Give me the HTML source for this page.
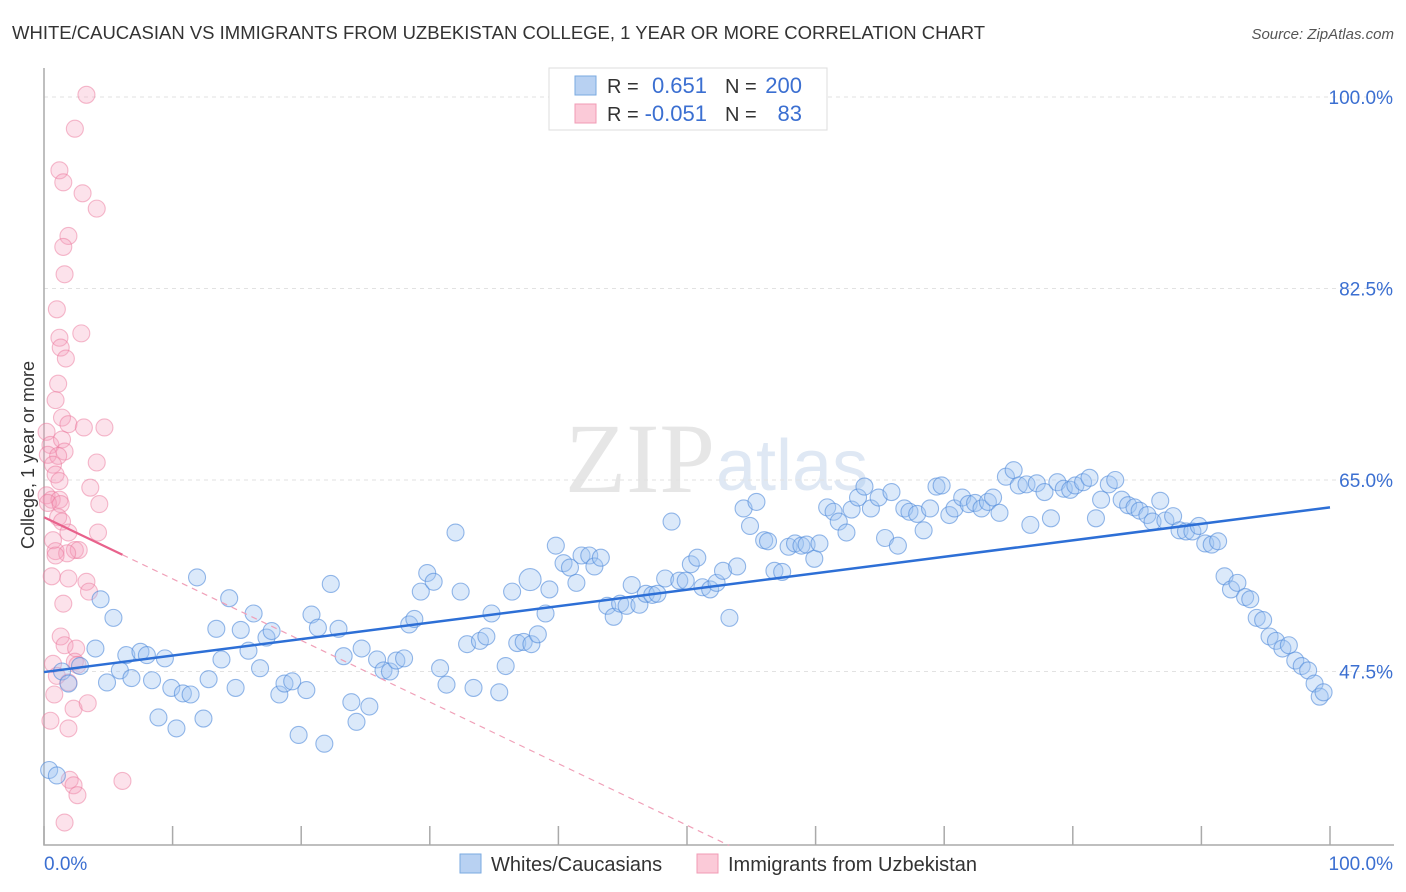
<!DOCTYPE html>
<html><head><meta charset="utf-8"><style>
body{margin:0;background:#fff;font-family:"Liberation Sans",sans-serif;}
svg{display:block}
</style></head><body>
<svg id="chart" width="1406" height="892" xmlns="http://www.w3.org/2000/svg">
<text x="12" y="39" font-size="18.5" fill="#333">WHITE/CAUCASIAN VS IMMIGRANTS FROM UZBEKISTAN COLLEGE, 1 YEAR OR MORE CORRELATION CHART</text>
<text x="1394" y="39" font-size="15" fill="#555" font-style="italic" text-anchor="end">Source: ZipAtlas.com</text>
<text x="715" y="492" font-size="100" fill="#e6e6e6" font-family="Liberation Serif,serif" text-anchor="end">ZIP</text>
<text x="716" y="490" font-size="72" fill="#dfe8f4">atlas</text>
<g id="grid"></g>
<g id="axes"></g>
<g id="pinkg"></g>
<g id="blueg"></g>
<g id="lines"></g>
<text x="34" y="455" font-size="18" fill="#333" text-anchor="middle" transform="rotate(-90 34 455)">College, 1 year or more</text>
<text x="44" y="870" font-size="19" fill="#3b6fd1">0.0%</text>
<text x="1393" y="870" font-size="19" fill="#3b6fd1" text-anchor="end">100.0%</text>
<g>
<rect x="549" y="68" width="278" height="62" fill="#fff" stroke="#ddd"/>
<rect x="575" y="76" width="21" height="19" fill="#b8d1f2" stroke="#7aaae0"/>
<rect x="575" y="104" width="21" height="19" fill="#fbcad8" stroke="#f09bb5"/>
<text x="607" y="93" font-size="20" fill="#333">R =</text>
<text x="707" y="93" font-size="22" fill="#3b6fd1" text-anchor="end">0.651</text>
<text x="725" y="93" font-size="20" fill="#333">N =</text>
<text x="802" y="93" font-size="22" fill="#3b6fd1" text-anchor="end">200</text>
<text x="607" y="121" font-size="20" fill="#333">R =</text>
<text x="707" y="121" font-size="22" fill="#3b6fd1" text-anchor="end">-0.051</text>
<text x="725" y="121" font-size="20" fill="#333">N =</text>
<text x="802" y="121" font-size="22" fill="#3b6fd1" text-anchor="end">83</text>
</g>
<g>
<rect x="460" y="854" width="21" height="19" fill="#b8d1f2" stroke="#7aaae0"/>
<text x="491" y="871" font-size="20" fill="#333">Whites/Caucasians</text>
<rect x="697" y="854" width="21" height="19" fill="#fbcad8" stroke="#f09bb5"/>
<text x="728" y="871" font-size="20" fill="#333">Immigrants from Uzbekistan</text>
</g>
</svg>
<script>
const yTicks=[47.5,65.0,82.5,100.0];
const xTicks=[0,10,20,30,40,50,60,70,80,90,100];
const blueX=[0.4,1.0,1.4,1.9,2.8,4.0,4.4,4.9,5.4,5.9,6.4,6.8,7.5,8.0,8.4,8.9,9.4,9.9,10.3,10.8,11.4,11.9,12.4,12.8,13.4,13.8,14.4,14.9,15.3,15.9,16.3,16.8,17.3,17.7,18.3,18.7,19.3,19.8,20.4,20.8,21.3,21.8,22.3,22.9,23.3,23.9,24.3,24.7,25.3,25.9,26.4,26.9,27.4,28.0,28.4,28.8,29.3,29.8,30.3,30.8,31.3,32.0,32.4,32.9,33.4,33.9,34.4,34.8,35.4,35.9,36.4,36.8,37.3,37.9,38.4,39.0,39.3,39.8,40.4,40.9,41.4,41.8,42.4,42.8,43.3,43.8,44.3,44.8,45.3,45.7,46.3,46.8,47.3,47.7,48.3,48.8,49.4,49.9,50.3,50.8,51.2,51.8,52.3,52.8,53.3,53.9,54.4,54.9,55.4,56.0,56.3,56.8,57.4,57.9,58.4,58.9,59.3,59.9,60.3,60.9,61.4,61.8,62.4,62.8,63.3,63.8,64.3,64.9,65.4,65.9,66.4,66.9,67.3,67.9,68.4,68.9,69.4,69.8,70.4,70.8,71.4,71.9,72.4,72.9,73.4,73.8,74.3,74.8,75.4,75.8,76.4,76.7,77.2,77.8,78.3,78.8,79.3,79.8,80.2,80.8,81.3,81.8,82.2,82.8,83.3,83.8,84.3,84.8,85.2,85.8,86.2,86.8,87.2,87.8,88.3,88.8,89.3,89.8,90.3,90.8,91.3,91.8,92.3,92.8,93.4,93.8,94.3,94.8,95.3,95.8,96.3,96.8,97.3,97.8,98.3,98.8,99.2,99.5,37.8];
const blueY=[38.5,38.0,47.5,46.4,48.0,49.6,54.1,46.5,52.4,47.6,49.0,46.9,49.3,49.0,46.7,43.3,48.7,46.0,42.3,45.5,45.4,56.1,43.2,46.8,51.4,48.6,54.2,46.0,51.3,49.4,52.8,47.8,50.6,51.2,45.4,46.4,46.6,41.7,45.8,52.7,51.5,40.9,55.5,51.4,48.9,44.7,42.9,49.6,44.3,48.6,47.6,47.5,48.5,48.7,51.8,52.3,54.8,56.5,55.7,47.8,46.3,60.2,54.8,50.0,46.0,50.3,50.7,52.8,45.6,48.0,54.8,50.1,50.2,50.0,50.9,52.8,55.0,59.0,57.4,57.0,55.6,58.1,58.1,57.1,57.9,53.5,52.5,53.7,53.5,55.4,53.6,54.6,54.5,54.6,56.0,61.2,55.8,55.8,57.3,57.9,55.2,55.0,55.6,56.7,52.4,57.1,62.4,60.8,63.0,59.5,59.4,56.7,56.6,58.9,59.2,59.0,59.1,57.8,59.2,62.5,62.1,61.2,60.2,62.3,63.4,64.4,62.4,63.4,59.7,63.9,59.0,62.4,62.1,61.9,60.4,62.4,64.4,64.5,61.8,62.4,63.4,62.8,62.9,62.4,63.0,63.4,62.0,65.3,65.9,64.5,64.6,60.9,64.7,63.9,61.5,64.8,64.2,64.1,64.5,64.8,65.2,61.5,63.2,64.6,65.0,63.2,62.7,62.5,62.2,61.8,61.2,63.1,61.3,61.7,60.4,60.3,60.3,60.8,59.2,59.1,59.4,56.2,55.0,55.6,54.3,54.1,52.4,52.2,50.7,50.3,49.6,49.9,48.5,48.0,47.6,46.4,45.2,45.6,55.9];
const pinkX=[3.3,2.4,1.2,1.5,3.0,4.1,1.9,1.5,1.6,1.0,2.9,1.2,1.3,1.7,1.1,0.9,1.4,1.9,4.7,3.1,0.2,0.5,1.4,1.6,0.3,1.1,0.7,4.1,0.9,1.2,3.6,0.2,0.6,1.2,0.3,1.3,1.1,1.4,1.9,4.2,0.7,0.9,2.4,2.7,1.8,0.9,0.6,1.9,3.3,3.5,1.5,1.3,1.6,2.5,0.7,2.4,2.6,1.0,1.9,2.3,3.4,0.8,0.5,1.9,2.0,2.3,2.6,6.1,1.6,4.3];
const pinkY=[100.2,97.1,93.3,92.2,91.2,89.8,87.3,86.3,83.8,80.6,78.4,78.0,77.1,76.1,73.8,72.3,70.7,70.1,69.8,69.8,69.4,68.2,68.7,67.6,67.3,67.2,66.4,66.6,65.5,64.9,64.3,63.6,63.2,63.2,62.9,62.8,61.6,61.2,60.2,60.2,59.5,58.5,58.6,58.6,58.3,58.1,56.2,56.0,55.7,54.8,53.7,50.7,49.9,49.6,48.2,48.4,48.1,47.1,46.5,44.1,44.6,45.4,43.0,42.3,37.6,37.1,36.2,37.5,33.7,62.8];
const blueTrend=[47.45,62.5];
const pinkTrend=[61.6,-0.563];
const NS='http://www.w3.org/2000/svg';
const X0=44,X1=1330;
function sx(v){return X0+(X1-X0)*v/100;}
function sy(v){return 97+(100-v)*10.943;}
function mk(t,a,p){const e=document.createElementNS(NS,t);for(const k in a)e.setAttribute(k,a[k]);p.appendChild(e);return e;}
const grid=document.getElementById('grid'),axes=document.getElementById('axes');
yTicks.forEach(t=>{
 const l=mk('line',{x1:44,x2:1394,y1:sy(t),y2:sy(t),stroke:'#e2e2e2','stroke-dasharray':'4,4'},grid);
 
 
 const tx=mk('text',{x:1393,y:sy(t)+7,'font-size':19,fill:'#3b6fd1','text-anchor':'end'},grid);
 tx.textContent=t.toFixed(1)+'%';
 
 
});
const ax=mk('path',{d:'M44 68 V845 H1394',fill:'none',stroke:'#aaa','stroke-width':1.5},axes);


xTicks.forEach(t=>{
 const l=mk('line',{x1:sx(t),x2:sx(t),y1:826,y2:845,stroke:'#aaa','stroke-width':1.5},axes);
 
 
});
const pg=document.getElementById('pinkg');
pinkX.forEach((x,i)=>{
 const c=mk('circle',{cx:sx(x),cy:sy(pinkY[i]),r:8.5,fill:'rgba(246,160,188,0.3)',stroke:'rgba(236,120,155,0.5)','stroke-width':1.1},pg);
 
 
});
const bg=document.getElementById('blueg');
blueX.forEach((x,i)=>{
 const big=i===blueX.length-1;
 const c=mk('circle',{cx:sx(x),cy:sy(blueY[i]),r:big?11:8.5,fill:'rgba(160,198,242,0.38)',stroke:'rgba(80,138,218,0.6)','stroke-width':1.1},bg);
 
 
});
const lg=document.getElementById('lines');
const bl=mk('line',{x1:sx(0),y1:sy(blueTrend[0]),x2:sx(100),y2:sy(blueTrend[1]),stroke:'#2d6fd6','stroke-width':2.5},lg);


const pEnd=(31.6-pinkTrend[0])/pinkTrend[1];
const pd=mk('line',{x1:sx(6.1),y1:sy(pinkTrend[0]+pinkTrend[1]*6.1),x2:sx(pEnd),y2:sy(31.6),stroke:'#f0a0b8','stroke-width':1.2,'stroke-dasharray':'6,5'},lg);


const ps=mk('line',{x1:sx(0),y1:sy(pinkTrend[0]),x2:sx(6.1),y2:sy(pinkTrend[0]+pinkTrend[1]*6.1),stroke:'#e8628c','stroke-width':2.2},lg);


</script>
</body></html>
